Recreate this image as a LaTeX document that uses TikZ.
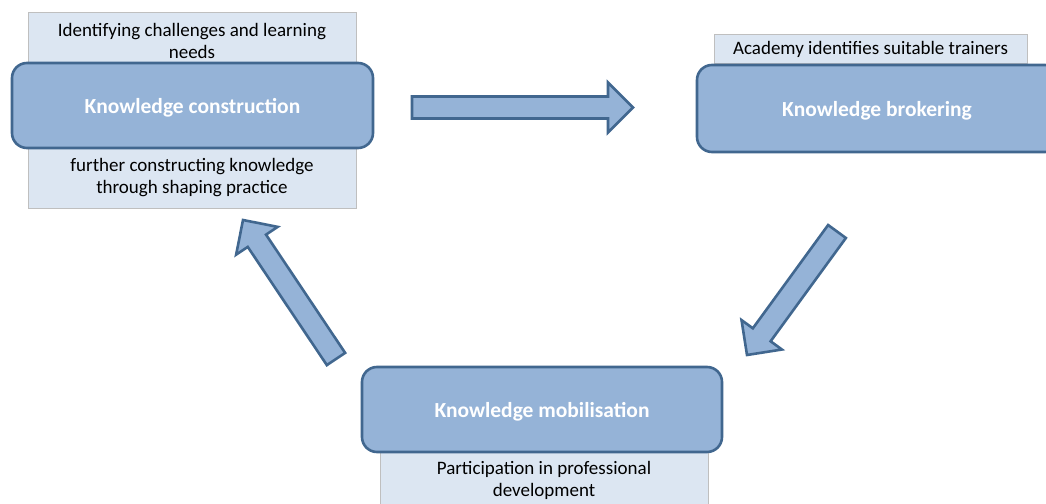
\documentclass[tikz,border=0pt]{standalone}
\usepackage{fontspec}
\setmainfont{Carlito}
\usetikzlibrary{calc}
\definecolor{darkfill}{HTML}{95B3D7}
\definecolor{darkline}{HTML}{41678F}
\definecolor{lightfill}{HTML}{DCE6F2}
\definecolor{lightline}{HTML}{BFBFBF}
\tikzset{
  lightbox/.style={fill=lightfill, draw=lightline, line width=0.6pt},
  mainbox/.style={fill=darkfill, draw=darkline, line width=2.6pt, rounded corners=15pt},
  maintext/.style={text=white, font=\fontsize{21.5}{24}\selectfont\bfseries},
  subtext/.style={text=black, align=center, font=\fontsize{19}{22.5}\selectfont},
  blockarrow/.style={fill=darkfill, draw=darkline, line width=2.6pt, line join=miter},
}
\newcommand{\myblockarrow}[2]{%
  \coordinate (h-#1-#2) at ($(#2)!25pt!(#1)$);
  \draw[blockarrow]
    ($(#1)!11pt!90:(#2)$) -- ($(h-#1-#2)!11pt!-90:(#1)$) -- ($(h-#1-#2)!25pt!-90:(#1)$)
    -- (#2) -- ($(h-#1-#2)!25pt!90:(#1)$) -- ($(h-#1-#2)!11pt!90:(#1)$)
    -- ($(#1)!11pt!-90:(#2)$) -- cycle;}
\begin{document}
\begin{tikzpicture}[x=1pt,y=1pt]
\useasboundingbox (0,0) rectangle (1046,503);
\clip (0,0) rectangle (1046,503);
% light boxes
\path[lightbox] (28,295) rectangle (356,491);
\path[lightbox] (714,440) rectangle (1027,469);
\path[lightbox] (380,-10) rectangle (708,51);
% main boxes
\path[mainbox] (12,355) rectangle (373,440);
\path[mainbox] (697,351) rectangle (1060,438);
\path[mainbox] (362,51) rectangle (722,136);
\node[maintext] (kc) at (192.5,395) {Knowledge construction};
\node[maintext] (kb) at (877,392) {Knowledge brokering};
\node[maintext] (km) at (542,91.5) {Knowledge mobilisation};
% sub texts
\node[subtext] (t1) at (192,462) {Identifying challenges and learning\\needs};
\node[subtext] (t2) at (192,325.5) {further constructing knowledge\\through shaping practice};
\node[subtext] (t3) at (870.5,453.5) {Academy identifies suitable trainers};
\node[subtext] (t4) at (544,22.5) {Participation in professional\\development};
% arrows
\coordinate (a1t) at (412,395.5);
\coordinate (a1p) at (633,395.5);
\coordinate (a2t) at (837,271.5);
\coordinate (a2p) at (747,148);
\coordinate (a3t) at (336,144);
\coordinate (a3p) at (243,283);
\myblockarrow{a1t}{a1p}
\myblockarrow{a2t}{a2p}
\myblockarrow{a3t}{a3p}
\end{tikzpicture}
\end{document}
